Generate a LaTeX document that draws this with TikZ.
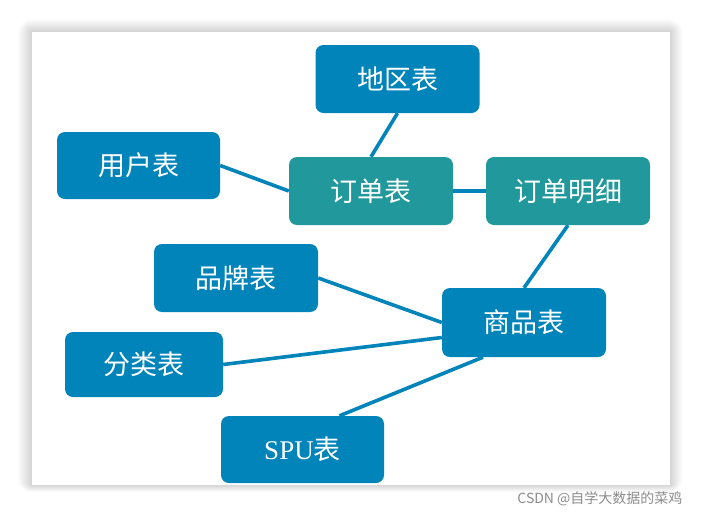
\documentclass[tikz,border=0pt]{standalone}
\usepackage{fontspec}
\setmainfont{Liberation Serif}
\newfontfamily\cjk{Noto Sans CJK SC}
\newfontfamily\serifspu{Liberation Serif}
\pgfdeclarelayer{bg}
\pgfdeclarelayer{lines}
\pgfsetlayers{bg,lines,main}
\definecolor{nodeblue}{RGB}{0,132,186}
\definecolor{nodeteal}{RGB}{33,152,155}
\definecolor{wmgray}{RGB}{140,140,140}
\tikzset{
  tbl/.style={rectangle, rounded corners=8pt, fill=nodeblue, text=white,
    inner sep=0pt, minimum width=164pt, minimum height=68pt,
    font=\cjk\fontsize{27}{27}\selectfont},
  tealtbl/.style={tbl, fill=nodeteal},
  link/.style={draw=nodeblue, line width=3.6pt}
}
\begin{document}
\begin{tikzpicture}[x=1pt,y=-1pt]
\useasboundingbox (0,0) rectangle (701,517);
\begin{pgfonlayer}{bg}
  \fill[white] (0,0) rectangle (701,517);
  \foreach \i in {1,...,14} {
    \fill[black, opacity=0.012, rounded corners=\i pt] (32-\i,32-\i*0.9) rectangle (670+\i*0.9,485+\i*0.5);
  }
  \fill[white] (32,32) rectangle (670,485);
\end{pgfonlayer}

\node[tbl] (dq) at (397.5,79) {地区表};
\node[tbl, minimum width=163pt, minimum height=67pt] (yh) at (138.5,165.5) {用户表};
\node[tealtbl] (dd) at (371,191) {订单表};
\node[tealtbl] (mx) at (568,191) {订单明细};
\node[tbl] (pp) at (236,278) {品牌表};
\node[tbl, minimum width=158pt, minimum height=65pt] (fl) at (144,364.5) {分类表};
\node[tbl, minimum width=163pt, minimum height=67pt] (spu) at (302.5,449.5) {{\serifspu\fontsize{27}{27}\selectfont SPU}表};
\node[tbl, minimum height=69pt] (sp) at (524,322.5) {商品表};

\begin{pgfonlayer}{lines}
  \draw[link] (dq.south) -- (dd.north);
  \draw[link] (yh.east) -- (dd.west);
  \draw[link] (dd.east) -- (mx.west);
  \draw[link] (mx.south) -- (sp.north);
  \draw[link] (pp.east) -- (sp.west);
  \draw[link] (fl.east) -- ([yshift=-15pt]sp.west);
  \draw[link] ([xshift=37pt]spu.north) -- ([xshift=-41pt]sp.south);
\end{pgfonlayer}

\node[text=wmgray, font=\cjk\fontsize{14}{14}\selectfont, anchor=east] (wm) at (686,499) {CSDN @自学大数据的菜鸡};
\end{tikzpicture}
\end{document}
